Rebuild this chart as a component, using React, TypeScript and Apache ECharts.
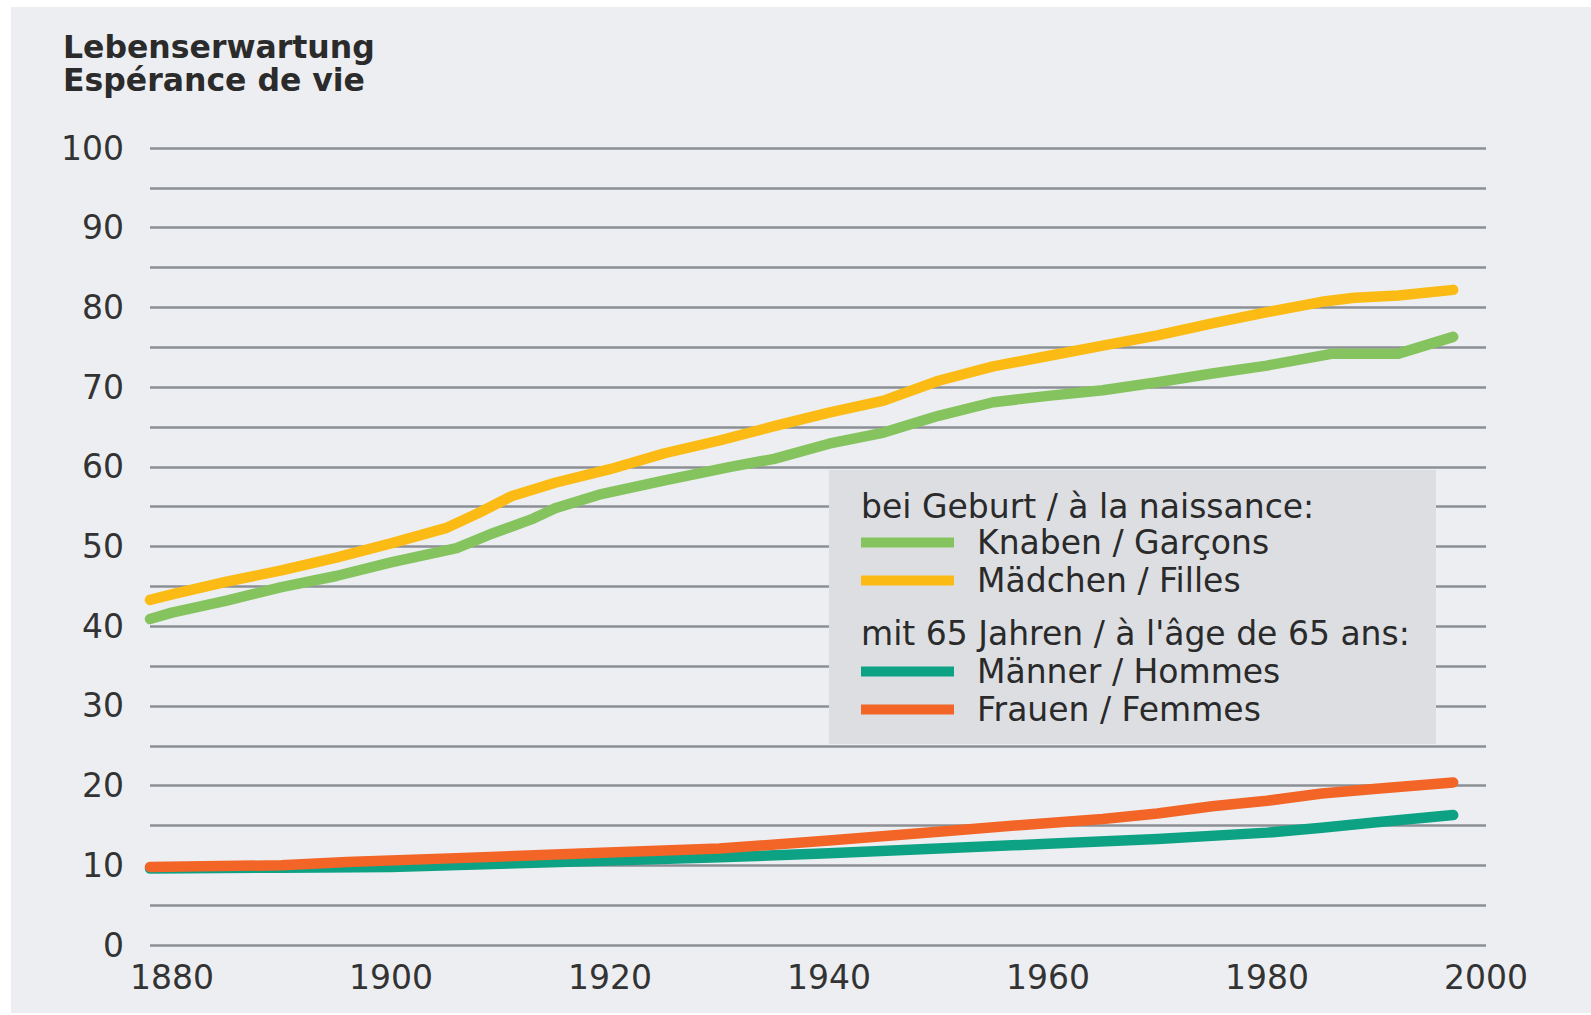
import React, { useEffect, useRef } from "react";
import * as echarts from "echarts";

// ---- data ----
const boysYears = [1878, 1880, 1885, 1890, 1895, 1900, 1906, 1909, 1913, 1915, 1919, 1925, 1931, 1935, 1940, 1945, 1950, 1955, 1960, 1965, 1970, 1975, 1980, 1986, 1992, 1997];
const boysValues = [40.9, 41.7, 43.2, 44.9, 46.3, 48.0, 49.8, 51.5, 53.5, 54.8, 56.5, 58.3, 60.0, 61.0, 62.9, 64.3, 66.4, 68.1, 68.9, 69.6, 70.6, 71.7, 72.7, 74.2, 74.2, 76.3];

const girlsYears = [1878, 1880, 1885, 1890, 1895, 1900, 1905, 1908, 1911, 1915, 1920, 1925, 1930, 1935, 1940, 1945, 1950, 1955, 1960, 1965, 1970, 1975, 1980, 1985, 1988, 1992, 1997];
const girlsValues = [43.3, 44.0, 45.6, 47.0, 48.6, 50.4, 52.3, 54.2, 56.3, 58.0, 59.7, 61.7, 63.3, 65.1, 66.8, 68.3, 70.8, 72.6, 73.9, 75.2, 76.5, 78.0, 79.4, 80.7, 81.2, 81.5, 82.2];

const menYears = [1878, 1890, 1900, 1910, 1920, 1930, 1940, 1950, 1960, 1970, 1980, 1985, 1990, 1997];
const menValues = [9.6, 9.7, 9.8, 10.2, 10.6, 11.0, 11.5, 12.1, 12.7, 13.3, 14.1, 14.7, 15.4, 16.3];

const womenYears = [1878, 1890, 1896, 1906, 1918, 1930, 1940, 1950, 1958, 1965, 1970, 1975, 1980, 1985, 1990, 1997];
const womenValues = [9.8, 10.0, 10.4, 10.9, 11.5, 12.1, 13.1, 14.2, 15.1, 15.8, 16.5, 17.4, 18.1, 19.0, 19.6, 20.4];

const xLabels = [1880, 1900, 1920, 1940, 1960, 1980, 2000];

const seriesNames = ["Knaben / Garçons", "Mädchen / Filles", "Männer / Hommes", "Frauen / Femmes"];
const seriesColors = ["#85c35f", "#fbbb14", "#0ea285", "#f26526"];

const titleLines = ["Lebenserwartung", "Espérance de vie"];
const groupHeaders = ["bei Geburt / à la naissance:", "mit 65 Jahren / à l'âge de 65 ans:"];

const FONT = "DejaVu Sans";

function pairs(xs: number[], ys: number[]) {
  return xs.map((x, i) => [x, ys[i]]);
}

export default function App() {
  const ref = useRef<HTMLDivElement>(null);
  useEffect(() => {
    if (!ref.current) return;
    const chart = echarts.init(ref.current, null, { renderer: "svg" });
    const allData = [
      pairs(boysYears, boysValues),
      pairs(girlsYears, girlsValues),
      pairs(menYears, menValues),
      pairs(womenYears, womenValues),
    ];
    const legendText = {
      fontFamily: FONT,
      fontSize: 33,
      color: "#2a2a2a",
      padding: [0, 0, 0, 18],
    };
    chart.setOption({
      animation: false,
      backgroundColor: "#ffffff",
      title: {
        text: titleLines.join("\n"),
        left: 63,
        top: 30,
        padding: 0,
        textStyle: {
          fontFamily: FONT,
          fontSize: 31.5,
          fontWeight: "bold",
          color: "#2b2b2b",
          lineHeight: 33,
        },
      },
      grid: { left: 150, right: 105, top: 148, bottom: 70, containLabel: false, outerBoundsMode: "none" },
      xAxis: {
        type: "value",
        min: 1878,
        max: 2000,
        interval: 2,
        axisLine: { show: false },
        axisTick: { show: false },
        splitLine: { show: false },
        axisLabel: {
          margin: 16,
          fontFamily: FONT,
          fontSize: 33,
          color: "#333",
          showMinLabel: true,
          showMaxLabel: true,
          hideOverlap: false,
          formatter: (v: number) => (xLabels.indexOf(Math.round(v)) >= 0 ? String(Math.round(v)) : ""),
        },
      },
      yAxis: {
        type: "value",
        min: 0,
        max: 100,
        interval: 5,
        axisLine: { show: false },
        axisTick: { show: false },
        splitLine: { show: true, lineStyle: { color: "#8c8f93", width: 2.5 } },
        axisLabel: {
          margin: 26,
          fontFamily: FONT,
          fontSize: 33,
          color: "#333",
          formatter: (v: number) => (v % 10 === 0 ? String(v) : ""),
        },
      },
      legend: [
        {
          data: [seriesNames[0], seriesNames[1]],
          orient: "vertical",
          left: 861,
          top: 526,
          padding: 0,
          itemGap: 5,
          itemWidth: 93,
          itemHeight: 10,
          icon: "rect",
          selectedMode: false,
          textStyle: legendText,
          z: 6,
        },
        {
          data: [seriesNames[2], seriesNames[3]],
          orient: "vertical",
          left: 861,
          top: 655,
          padding: 0,
          itemGap: 5,
          itemWidth: 93,
          itemHeight: 10,
          icon: "rect",
          selectedMode: false,
          textStyle: legendText,
          z: 6,
        },
      ],
      graphic: [
        {
          type: "rect",
          z: -10,
          silent: true,
          shape: { x: 11, y: 7, width: 1580, height: 1006 },
          style: { fill: "#eceef1" },
        },
        {
          type: "rect",
          z: 3,
          silent: true,
          shape: { x: 829, y: 470, width: 607, height: 274 },
          style: { fill: "#dcdee2" },
        },
        {
          type: "text",
          z: 6,
          x: 861,
          y: 506,
          style: {
            text: groupHeaders[0],
            fontFamily: FONT,
            fontSize: 33,
            fill: "#2a2a2a",
            verticalAlign: "middle",
          },
        },
        {
          type: "text",
          z: 6,
          x: 861,
          y: 633,
          style: {
            text: groupHeaders[1],
            fontFamily: FONT,
            fontSize: 33,
            fill: "#2a2a2a",
            verticalAlign: "middle",
          },
        },
      ],
      series: allData.map((d, i) => ({
        name: seriesNames[i],
        type: "line",
        data: d,
        color: seriesColors[i],
        showSymbol: false,
        symbol: "none",
        lineStyle: { width: 10.5, color: seriesColors[i], cap: "round", join: "round" },
        z: 2,
      })),
    });
    return () => chart.dispose();
  }, []);
  return (
    <div
      ref={ref}
      style={{ position: "absolute", left: 0, top: 0, width: 1591, height: 1015 }}
    />
  );
}
